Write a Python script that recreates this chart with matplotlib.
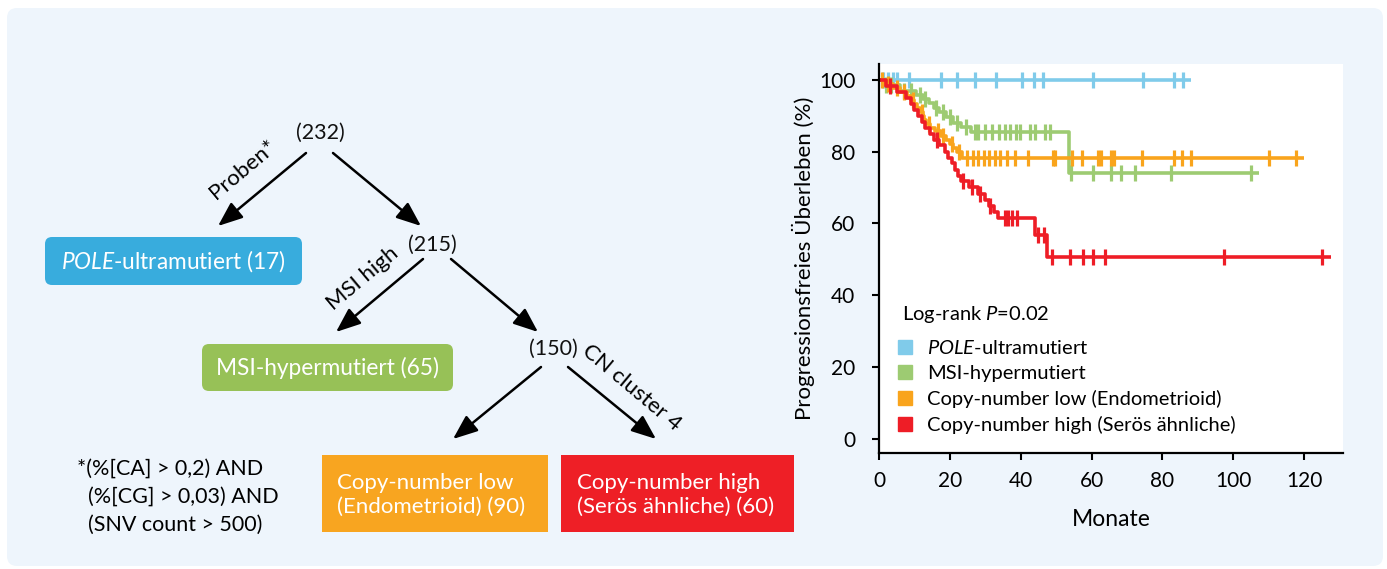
import numpy as np
import matplotlib
matplotlib.use('Agg')
import matplotlib.pyplot as plt
from matplotlib.patches import FancyBboxPatch, FancyArrowPatch, Rectangle
from matplotlib.lines import Line2D

plt.rcParams['font.family'] = ['Lato', 'DejaVu Sans']
plt.rcParams['mathtext.fontset'] = 'custom'
plt.rcParams['mathtext.rm'] = 'Lato'
plt.rcParams['mathtext.it'] = 'Lato:italic'

# --- Kaplan-Meier data (months, % progression free) ---
group_names = ['$\\it{POLE}$-ultramutiert', 'MSI-hypermutiert',
               'Copy-number low (Endometrioid)', 'Copy-number high (Serös ähnliche)']
group_colors = ['#80cbea', '#9dcb72', '#f9a41c', '#ee1d26']

pole_t = []
pole_s = []
pole_cens = [1.1, 2.5, 3.9, 5.1, 8.5, 17.5, 22.0, 27.0, 33.0, 40.3, 43.7, 46.2,
             60.3, 74.4, 83.4, 85.9]
pole_end = 88.2

msi_t = [1.0, 6.0, 10.5, 12.5, 14.0, 15.5, 17.0, 19.0, 21.0, 23.0, 26.0, 53.5]
msi_s = [98.5, 97.0, 95.8, 94.6, 93.4, 92.2, 91.0, 89.5, 88.0, 86.8, 85.4, 74.0]
msi_cens = [2.0, 3.5, 7.0, 9.0, 11.5, 13.0, 16.0, 18.0, 20.0, 22.0, 24.5,
            27.0, 28.0, 30.0, 31.8, 33.8, 35.5, 36.9, 38.6, 39.7, 42.5, 43.9, 46.8, 48.2,
            54.1, 60.3, 65.6, 68.2, 72.4, 82.5, 105.1]
msi_end = 107.3

cnl_t = [1.5, 4.0, 6.0, 8.0, 9.0, 10.0, 10.8, 11.5, 12.3, 12.8, 13.3, 14.5, 15.8,
         17.5, 19.0, 20.0, 21.0, 22.0, 23.5]
cnl_s = [98.9, 97.8, 96.7, 95.6, 94.4, 93.3, 92.2, 91.1, 90.0, 88.9, 87.8, 86.7, 85.6,
         84.4, 83.3, 82.2, 81.1, 80.0, 78.3]
cnl_cens = [0.8, 2.5, 5.0, 7.0, 9.5, 12.0, 14.0, 16.5, 18.0, 20.5, 22.5,
            24.8, 26.5, 27.9, 29.6, 31.0, 32.7, 34.1, 36.0, 38.3, 42.0, 49.0, 49.6,
            54.4, 57.2, 61.7, 62.8, 65.6, 66.2, 74.1, 83.4, 85.6, 88.2, 110.1, 117.7]
cnl_end = 120.0

cnh_t = [2.0, 5.0, 7.5, 9.0, 10.0, 11.0, 12.0, 13.0, 14.5, 15.5, 17.0, 18.5, 19.5,
         20.5, 21.5, 22.2, 23.0, 25.5, 28.0, 30.0, 31.0, 32.5, 33.5, 44.0, 47.3]
cnh_s = [98.3, 96.7, 95.0, 93.3, 91.7, 90.0, 88.3, 86.7, 85.0, 83.3, 81.7, 80.0, 78.3,
         76.7, 75.0, 73.3, 71.7, 70.0, 68.3, 66.6, 64.9, 63.2, 61.4, 56.8, 50.5]
cnh_cens = [3.0, 16.3, 23.7, 26.2, 28.5, 31.3, 35.5, 36.3, 37.5, 38.9, 45.0, 46.5,
            48.7, 53.8, 57.5, 60.3, 63.7, 97.5, 125.1]
cnh_end = 127.6

groups = [(pole_t, pole_s, pole_cens, pole_end),
          (msi_t, msi_s, msi_cens, msi_end),
          (cnl_t, cnl_s, cnl_cens, cnl_end),
          (cnh_t, cnh_s, cnh_cens, cnh_end)]

fig = plt.figure(figsize=(13.87, 5.69), dpi=100)
fig.patch.set_facecolor('white')

# background / diagram layer in pixel coordinates
bg = fig.add_axes([0, 0, 1, 1], zorder=0)
bg.set_xlim(0, 1387)
bg.set_ylim(569, 0)
bg.axis('off')
bg.add_patch(FancyBboxPatch((7, 8), 1376, 558, boxstyle='round,pad=0,rounding_size=10',
                            fc='#eef5fc', ec='none'))

# boxes
bg.add_patch(FancyBboxPatch((45, 237), 257, 48, boxstyle='round,pad=0,rounding_size=7',
                            fc='#38acdd', ec='none'))
bg.text(173, 261, '$\\it{POLE}$-ultramutiert (17)', color='white', fontsize=16.3,
        ha='center', va='center')
bg.add_patch(FancyBboxPatch((202, 344), 251, 47, boxstyle='round,pad=0,rounding_size=7',
                            fc='#97c157', ec='none'))
bg.text(327, 368, 'MSI-hypermutiert (65)', color='white', fontsize=16.3,
        ha='center', va='center')
bg.add_patch(Rectangle((322, 455), 226, 77, fc='#f8a520', ec='none'))
bg.text(337, 495, 'Copy-number low\n(Endometrioid) (90)', color='white', fontsize=16,
        ha='left', va='center', linespacing=1.25)
bg.add_patch(Rectangle((561, 455), 233, 77, fc='#ee1f26', ec='none'))
bg.text(577, 495, 'Copy-number high\n(Serös ähnliche) (60)', color='white', fontsize=16,
        ha='left', va='center', linespacing=1.25)

# node counts
for lab, (x, y) in zip(['(232)', '(215)', '(150)'], [(320, 133), (432, 245), (553, 349)]):
    bg.text(x, y, lab, fontsize=15.5, ha='center', va='center', color='#111111')

# arrows
arrows = [((306, 153), (218, 226)), ((333, 153), (421, 226)),
          ((423, 259), (336, 332)), ((451, 259), (538, 332)),
          ((541, 367), (453, 439)), ((568, 367), (656, 439))]
for a, b in arrows:
    bg.add_patch(FancyArrowPatch(a, b, arrowstyle='-|>,head_length=0.75,head_width=0.3',
                                 mutation_scale=20, lw=1.8, color='black',
                                 shrinkA=0, shrinkB=0))

bg.text(243, 170, 'Proben*', fontsize=16, rotation=40, ha='center', va='center',
        rotation_mode='anchor')
bg.text(363, 279, 'MSI high', fontsize=16, rotation=40, ha='center', va='center',
        rotation_mode='anchor')
bg.text(632, 388, 'CN cluster 4', fontsize=16, rotation=-40, ha='center', va='center',
        rotation_mode='anchor')

bg.text(77, 469, '*(%[CA] > 0,2) AND', fontsize=15.5, ha='left', va='center')
bg.text(88, 497, '(%[CG] > 0,03) AND', fontsize=15.5, ha='left', va='center')
bg.text(88, 525, '(SNV count > 500)', fontsize=15.5, ha='left', va='center')

# Kaplan-Meier plot
ax = fig.add_axes([0.6338, 0.2039, 0.3345, 0.6836], zorder=2)
ax.set_facecolor('white')
for (t, s, cens, end), col in zip(groups, group_colors):
    xs = [0] + list(t) + [end]
    ys = [100] + list(s) + [s[-1] if s else 100]
    ax.step(xs, ys, where='post', color=col, lw=2.6, solid_capstyle='butt')
    idx = np.searchsorted(np.array(t), np.array(cens), side='right')
    levels = np.array([100] + list(s))
    ax.plot(cens, levels[idx], ls='none', marker='|', ms=11, mew=2.3, color=col)

ax.set_xlim(0, 131)
ax.set_ylim(-4, 104.4)
ax.set_xticks(np.arange(0, 121, 20))
ax.set_yticks(np.arange(0, 101, 20))
for sp in ['top', 'right']:
    ax.spines[sp].set_visible(False)
for sp in ['left', 'bottom']:
    ax.spines[sp].set_linewidth(1.6)
ax.tick_params(axis='y', direction='out', length=5, width=1.5, labelsize=15, pad=12)
ax.tick_params(axis='x', direction='out', length=5, width=1.5, labelsize=15, pad=8)
ax.set_xlabel('Monate', fontsize=16.5, labelpad=13)
ax.set_ylabel('Progressionsfreies Überleben (%)', fontsize=16, labelpad=3)

ax.text(0.05, 0.355, 'Log-rank $\\it{P}$=0.02', transform=ax.transAxes, fontsize=14.5,
        ha='left', va='center')
handles = [Line2D([], [], ls='none', marker='s', ms=10, color=c) for c in group_colors]
leg = ax.legend(handles, group_names, loc='upper left',
                bbox_to_anchor=(0.038, 0.293), frameon=False, fontsize=14.5,
                handlelength=0.8, handletextpad=0.7, labelspacing=0.4,
                borderaxespad=0, borderpad=0)

fig.savefig('out.png', dpi=100, facecolor='white')
